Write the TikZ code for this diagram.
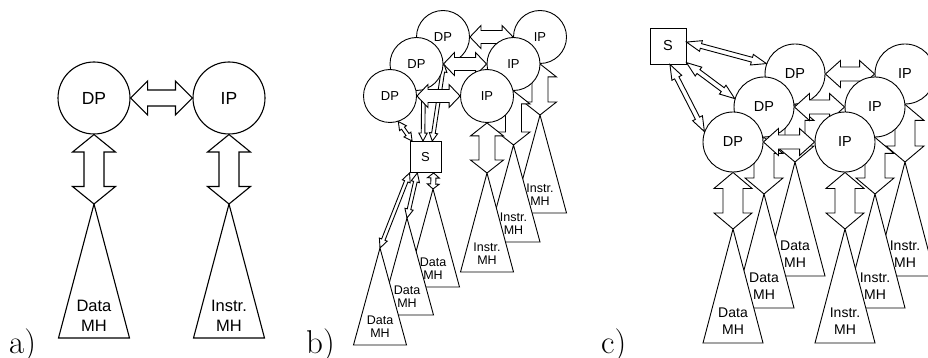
\documentclass[tikz,border=0pt]{standalone}
\usepackage{fontspec}
\newfontfamily\arialf{Liberation Sans}
\usetikzlibrary{calc}
% double block arrow between two points: [style] A, B, half shaft, half head, head length
\newcommand\dblarrow[6][]{%
 \draw[blk,#1] (#2)
 -- ($(#2)!#6!(#3)!#5!90:(#3)$)
 -- ($(#2)!#6!(#3)!#4!90:(#3)$)
 -- ($(#3)!#6!(#2)!#4!-90:(#2)$)
 -- ($(#3)!#6!(#2)!#5!-90:(#2)$)
 -- (#3)
 -- ($(#3)!#6!(#2)!#5!90:(#2)$)
 -- ($(#3)!#6!(#2)!#4!90:(#2)$)
 -- ($(#2)!#6!(#3)!#4!-90:(#3)$)
 -- ($(#2)!#6!(#3)!#5!-90:(#3)$)
 -- cycle;}
% memory hierarchy triangle: name, apex, half base, height, text style, text offset, text
\newcommand\mhtri[7]{%
 \coordinate (#1) at (#2);
 \draw[tri] (#1) -- ++(-#3,#4) -- ++({2*#3},0) -- cycle;
 \node[#5] (#1t) at ($(#1)+(0,#4-#6)$) {#7};}
\begin{document}
\begin{tikzpicture}[x=1pt,y=-1pt,
 blk/.style={draw=black, fill=white, line join=miter},
 tri/.style={draw=black, fill=white, line join=miter},
 circ/.style={circle, draw=black, fill=white, inner sep=0pt, minimum size=#1},
 sbox/.style={rectangle, draw=black, fill=white, inner sep=0pt, minimum width=#1, minimum height=#1},
 fA/.style={font=\arialf\fontsize{17.5}{20}\selectfont},
 fB/.style={font=\arialf\fontsize{13}{15}\selectfont},
 fC/.style={font=\arialf\fontsize{14.5}{17}\selectfont},
 ttA/.style={font=\arialf\fontsize{16.5}{20}\selectfont, align=center, inner sep=0pt, anchor=south},
 ttB/.style={font=\arialf\fontsize{12.5}{13.5}\selectfont, align=center, inner sep=0pt, anchor=south},
 ttC/.style={font=\arialf\fontsize{14}{17}\selectfont, align=center, inner sep=0pt, anchor=south},
 lab/.style={font=\rmfamily\fontsize{33}{33}\selectfont, inner sep=0pt, anchor=base west}]
\useasboundingbox (0,0) rectangle (928,358);

% ---------------- a) ----------------
\begin{scope}[line width=1.1pt]
\mhtri{tDa}{94,204}{35.5}{134}{ttA}{6}{Data\\MH}
\mhtri{tIa}{229,204}{35.5}{134}{ttA}{6}{Instr.\\MH}
\node[circ=72pt, fA] (DPa) at (94,98) {DP};
\node[circ=72pt, fA] (IPa) at (229,98) {IP};
\dblarrow{DPa.east}{IPa.west}{8pt}{17pt}{17pt}
\dblarrow{DPa.south}{tDa}{10pt}{21.5pt}{17.5pt}
\dblarrow{IPa.south}{tIa}{10pt}{21.5pt}{17.5pt}
\end{scope}
\node[lab] (la) at (9,353) {a)};

% ---------------- b) ----------------
\begin{scope}[line width=0.9pt]
\node[sbox=31pt, fB] (Sb) at (425.5,157) {S};
% back layer
\mhtri{tDb3}{433,189}{26.5}{98}{ttB}{7}{Data\\MH}
\mhtri{tIb3}{540,115}{26.5}{98}{ttB}{7}{Instr.\\MH}
\node[circ=53pt, fB] (DPb3) at (443,37) {DP};
\node[circ=53pt, fB] (IPb3) at (540,37) {IP};
\dblarrow{DPb3.east}{IPb3.west}{6.5pt}{11.5pt}{11pt}
\dblarrow{IPb3.south}{tIb3}{8pt}{16.5pt}{13pt}
\dblarrow{DPb3.-88}{Sb.67}{1.8pt}{4.2pt}{8pt}
% middle layer
\mhtri{tDb2}{407,218}{26.5}{97}{ttB}{7}{Data\\MH}
\mhtri{tIb2}{513.5,145}{26.5}{97}{ttB}{7}{Instr.\\MH}
\node[circ=53pt, fB] (DPb2) at (416.5,64) {DP};
\node[circ=53pt, fB] (IPb2) at (513.5,64) {IP};
\dblarrow{DPb2.east}{IPb2.west}{6.5pt}{11.5pt}{11pt}
\dblarrow{IPb2.south}{tIb2}{8pt}{16.5pt}{13pt}
\dblarrow{DPb2.-75}{Sb.99}{1.8pt}{4.2pt}{8pt}
% front layer
\mhtri{tDb1}{380,248}{26.5}{97}{ttB}{7}{Data\\MH}
\mhtri{tIb1}{487,173}{26.5}{99}{ttB}{7}{Instr.\\MH}
\node[circ=53pt, fB] (DPb1) at (390,96) {DP};
\node[circ=53pt, fB] (IPb1) at (487,96) {IP};
\dblarrow{DPb1.east}{IPb1.west}{6.5pt}{11.5pt}{11pt}
\dblarrow{IPb1.south}{tIb1}{8pt}{16.5pt}{13pt}
\dblarrow{DPb1.-72}{Sb.130}{1.8pt}{4.2pt}{8pt}
% switch to data hierarchies
\dblarrow{Sb.south west}{tDb1}{1.8pt}{4.2pt}{9pt}
\dblarrow{Sb.-117}{tDb2}{1.8pt}{4.2pt}{9pt}
\dblarrow{Sb.-63}{tDb3}{2.5pt}{6pt}{5pt}
\end{scope}
\node[lab] (lb) at (306,353) {b)};

% ---------------- c) ----------------
\begin{scope}[line width=0.9pt]
\node[sbox=36pt, fC] (Sc) at (668,46) {S};
% back layer
\mhtri{tDc3}{795,162}{30}{114}{ttC}{8}{Data\\MH}
\mhtri{tIc3}{905,162}{30}{114}{ttC}{8}{Instr.\\MH}
\node[circ=60pt, fC] (DPc3) at (795,74) {DP};
\node[circ=60pt, fC] (IPc3) at (905,74) {IP};
\dblarrow{DPc3.east}{IPc3.west}{7pt}{13.5pt}{15pt}
\dblarrow{DPc3.south}{tDc3}{10pt}{19pt}{16pt}
\dblarrow{IPc3.south}{tIc3}{10pt}{19pt}{16pt}
% middle layer
\mhtri{tDc2}{764,194}{30}{114}{ttC}{8}{Data\\MH}
\mhtri{tIc2}{875,194}{30}{114}{ttC}{8}{Instr.\\MH}
\node[circ=60pt, fC] (DPc2) at (764,107) {DP};
\node[circ=60pt, fC] (IPc2) at (875,107) {IP};
\dblarrow{DPc2.east}{IPc2.west}{7pt}{13.5pt}{15pt}
\dblarrow{DPc2.south}{tDc2}{10pt}{19pt}{16pt}
\dblarrow{IPc2.south}{tIc2}{10pt}{19pt}{16pt}
% front layer
\mhtri{tDc1}{733,229}{30}{114}{ttC}{8}{Data\\MH}
\mhtri{tIc1}{845,229}{30}{114}{ttC}{8}{Instr.\\MH}
\node[circ=60pt, fC] (DPc1) at (733,142) {DP};
\node[circ=60pt, fC] (IPc1) at (845,142) {IP};
\dblarrow{DPc1.east}{IPc1.west}{7pt}{13.5pt}{15pt}
\dblarrow{DPc1.south}{tDc1}{10pt}{19pt}{16pt}
\dblarrow{IPc1.south}{tIc1}{10pt}{19pt}{16pt}
% switch to data processors
\dblarrow{Sc.12}{DPc3.160}{2.4pt}{5.5pt}{15pt}
\dblarrow{Sc.-42}{DPc2.164}{2.4pt}{5.5pt}{15pt}
\dblarrow{Sc.-84}{DPc1.160}{2.4pt}{5.5pt}{15pt}
\end{scope}
\node[lab] (lc) at (601,353) {c)};
\end{tikzpicture}
\end{document}
